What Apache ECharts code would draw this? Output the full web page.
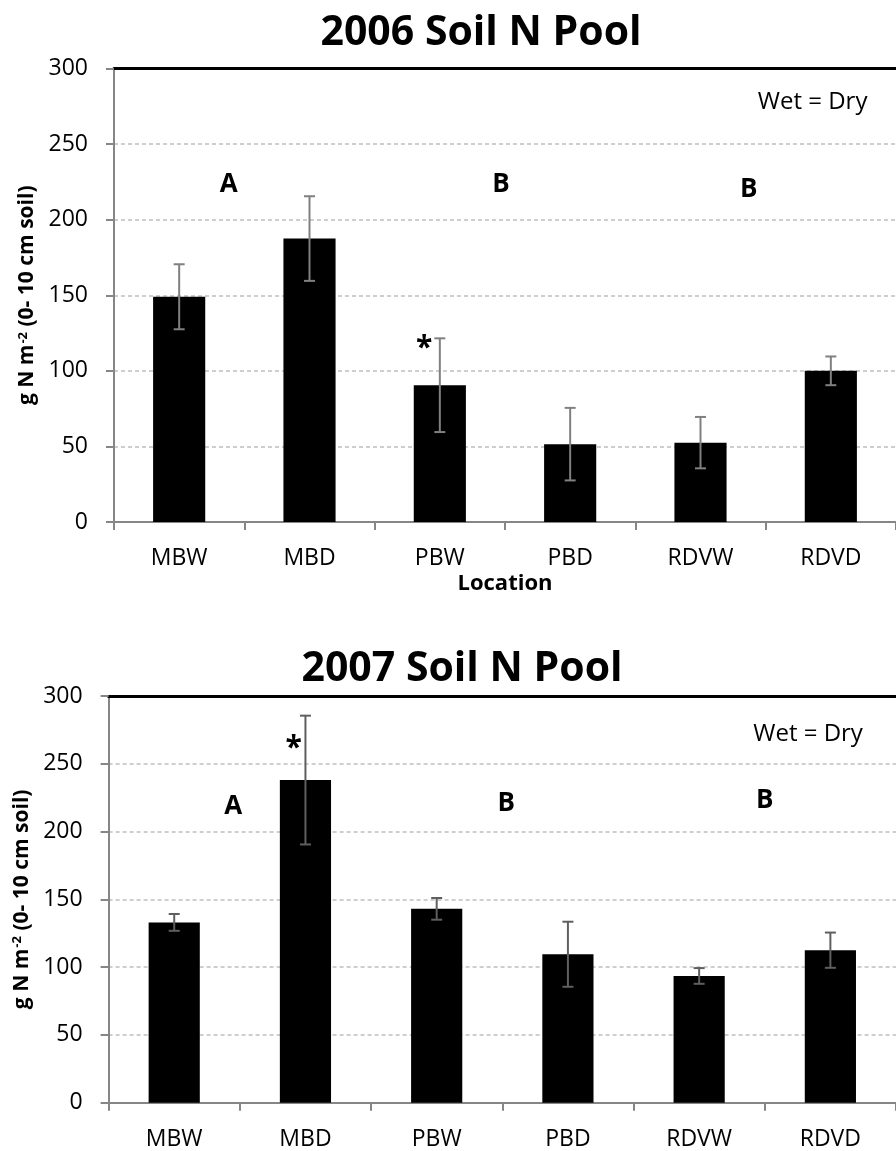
<!DOCTYPE html>
<html>
<head>
<meta charset="utf-8">
<script src="https://cdn.jsdelivr.net/npm/echarts@6/dist/echarts.min.js"></script>
<style>
  html, body { margin: 0; padding: 0; background: #fff; }
  #chart { width: 896px; height: 1151px; }
</style>
</head>
<body>
<div id="chart"></div>
<script>
// ---------- data ----------
const categories = ['MBW', 'MBD', 'PBW', 'PBD', 'RDVW', 'RDVD'];
const values2006 = [149, 187.5, 90.5, 51.5, 52.5, 100];
const errors2006 = [21.5, 28, 31, 24, 17, 9.5];
const values2007 = [133, 238, 143, 109.5, 93.5, 112.5];
const errors2007 = [6.2, 47.5, 8, 24, 5.8, 13];
const yMin = 0, yMax = 300, yStep = 50;
const titles = ['2006 Soil N Pool', '2007 Soil N Pool'];
const xAxisNames = ['Location', ''];
const notes2006 = ['A', 'B', 'B', 'Wet = Dry', '*'];
const notes2007 = ['A', 'B', 'B', 'Wet = Dry', '*'];

// ---------- layout (annotation anchors in category-slot / value units) ----------
const notePos2006 = [[0.88, 223], [2.97, 223], [4.87, 220], [5.36, 278], [2.38, 115]];
const notePos2007 = [[0.95, 218.5], [3.03, 221], [5.0, 223], [5.33, 272], [1.41, 261]];
const noteStyle = [
  { fontSize: 26, fontWeight: 'bold' },
  { fontSize: 26, fontWeight: 'bold' },
  { fontSize: 26, fontWeight: 'bold' },
  { fontSize: 24, fontWeight: 'normal' },
  { fontSize: 30, fontWeight: 'bold' }
];

const FONT = 'Open Sans';
const chart = echarts.init(document.getElementById('chart'), null, { renderer: 'canvas' });

function errRender(color) {
  return function (params, api) {
    const i = api.value(0), v = api.value(1), e = api.value(2);
    const t = api.coord([i, v + e]);
    const b = api.coord([i, v - e]);
    const hw = 5.5;
    const st = { stroke: color, lineWidth: 2 };
    return {
      type: 'group',
      children: [
        { type: 'line', shape: { x1: t[0], y1: t[1], x2: b[0], y2: b[1] }, style: st },
        { type: 'line', shape: { x1: t[0] - hw, y1: t[1], x2: t[0] + hw, y2: t[1] }, style: st },
        { type: 'line', shape: { x1: b[0] - hw, y1: b[1], x2: b[0] + hw, y2: b[1] }, style: st }
      ]
    };
  };
}

const yNameText = '{a|g N m}{s|-2}{a| (0- 10 cm soil)}';
const yNameStyle = {
  rich: {
    a: { fontFamily: FONT, fontWeight: 'bold', fontSize: 21, color: '#000' },
    s: { fontFamily: FONT, fontWeight: 'bold', fontSize: 13, color: '#000', verticalAlign: 'top', padding: [0, 0, 0, 1] }
  }
};

function catAxis(gi, name) {
  return {
    gridIndex: gi, type: 'category', data: categories, position: 'bottom',
    axisLine: { lineStyle: { color: '#868686', width: 2 } },
    axisTick: { show: true, length: 8, alignWithLabel: false, lineStyle: { color: '#868686', width: 2 } },
    axisLabel: { margin: 25, fontFamily: FONT, fontSize: 23, color: '#000' },
    name: name, nameLocation: 'middle', nameGap: 51,
    nameTextStyle: { fontFamily: FONT, fontWeight: 'bold', fontSize: 22, color: '#000' }
  };
}
function topAxis(gi) {
  return {
    gridIndex: gi, type: 'value', min: 0, max: categories.length, position: 'top',
    axisLine: { show: true, onZero: false, lineStyle: { color: '#000', width: 3 } },
    axisTick: { show: false }, axisLabel: { show: false }, splitLine: { show: false }
  };
}
function valAxis(gi, gap) {
  return {
    gridIndex: gi, type: 'value', min: yMin, max: yMax, interval: yStep,
    axisLine: { show: true, lineStyle: { color: '#868686', width: 2 } },
    axisTick: { show: true, length: 8, lineStyle: { color: '#868686', width: 2 } },
    axisLabel: { margin: 26, fontFamily: FONT, fontSize: 23, color: '#000' },
    splitLine: { show: true, lineStyle: { color: '#bfbfbf', width: 1.5, type: [4, 3] } },
    name: yNameText, nameLocation: 'middle', nameGap: gap, nameTextStyle: yNameStyle
  };
}
function notes(texts, pos, xi, yi) {
  return {
    type: 'custom', xAxisIndex: xi, yAxisIndex: yi, z: 10, silent: true,
    encode: { x: 0, y: 1 },
    data: texts.map((t, k) => [pos[k][0], pos[k][1], k]),
    renderItem: function (params, api) {
      const k = api.value(2);
      const p = api.coord([api.value(0), api.value(1)]);
      return {
        type: 'text', x: p[0], y: p[1],
        style: {
          text: texts[k], fill: '#000', fontFamily: FONT,
          fontSize: noteStyle[k].fontSize, fontWeight: noteStyle[k].fontWeight,
          align: 'center', verticalAlign: 'middle'
        }
      };
    }
  };
}

const option = {
  animation: false,
  backgroundColor: '#fff',
  title: [
    { text: titles[0], left: 476, top: 8, textAlign: 'center',
      textStyle: { fontFamily: FONT, fontWeight: 'bold', fontSize: 41, color: '#000' } },
    { text: titles[1], left: 457, top: 644, textAlign: 'center',
      textStyle: { fontFamily: FONT, fontWeight: 'bold', fontSize: 41, color: '#000' } }
  ],
  grid: [
    { left: 114, top: 68.5, width: 789, height: 453.5 },
    { left: 108.6, top: 696, width: 795, height: 406.7 }
  ],
  xAxis: [catAxis(0, xAxisNames[0]), topAxis(0), catAxis(1, xAxisNames[1]), topAxis(1)],
  yAxis: [valAxis(0, 76), valAxis(1, 71)],
  series: [
    { type: 'bar', xAxisIndex: 0, yAxisIndex: 0, data: values2006, barWidth: '40%', itemStyle: { color: '#000' } },
    { type: 'custom', xAxisIndex: 0, yAxisIndex: 0, renderItem: errRender('#808080'), z: 5,
      encode: { x: 0, y: 1 }, data: values2006.map((v, i) => [i, v, errors2006[i]]) },
    notes(notes2006, notePos2006, 1, 0),
    { type: 'bar', xAxisIndex: 2, yAxisIndex: 1, data: values2007, barWidth: '39%', itemStyle: { color: '#000' } },
    { type: 'custom', xAxisIndex: 2, yAxisIndex: 1, renderItem: errRender('#5f5f5f'), z: 5,
      encode: { x: 0, y: 1 }, data: values2007.map((v, i) => [i, v, errors2007[i]]) },
    notes(notes2007, notePos2007, 3, 1)
  ]
};
chart.setOption(option);
</script>
</body>
</html>
